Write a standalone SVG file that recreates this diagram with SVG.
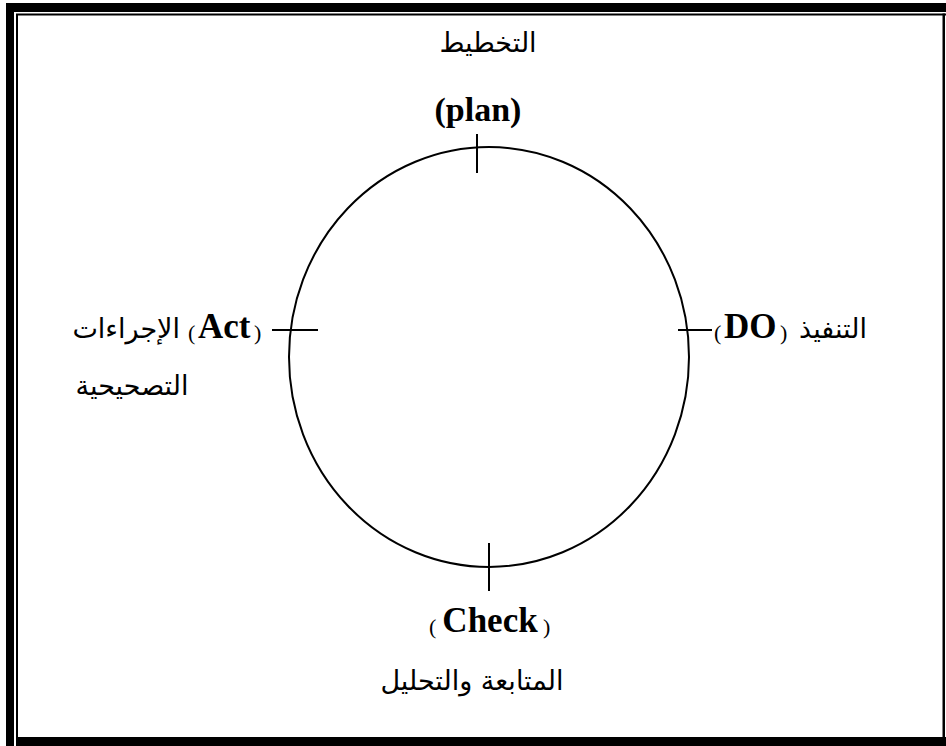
<svg xmlns="http://www.w3.org/2000/svg" width="946" height="746" viewBox="0 0 946 746">
  <style>
    .ar { font-family: "DejaVu Sans", "Noto Sans", sans-serif; font-size: 27px; fill: #000; }
    .par { font-family: "Liberation Serif", "Times New Roman", serif; font-size: 22px; fill: #000; }
    .lat { font-family: "Liberation Serif", "Times New Roman", serif; font-weight: bold; fill: #000; }
    .tick { stroke: #000; stroke-width: 2; fill: none; }
  </style>
  <rect x="0" y="0" width="946" height="746" fill="#fff"/>

  <!-- page frame: heavy outer band plus thin inner rule -->
  <g id="frame" fill="#000">
    <rect x="6" y="3" width="8" height="743"/>
    <rect x="6" y="3" width="940" height="9"/>
    <rect x="16" y="14" width="2" height="732"/>
    <rect x="16" y="13.5" width="930" height="2"/>
    <rect x="942.5" y="13.5" width="2.5" height="733"/>
    <rect x="16" y="737" width="930" height="9"/>
  </g>

  <!-- the cycle -->
  <g id="cycle">
    <ellipse cx="489" cy="357" rx="200" ry="210" fill="none" stroke="#000" stroke-width="2"/>
  </g>

  <!-- stage markers on the cycle -->
  <g id="connectors">
    <line class="tick" x1="477" y1="134" x2="477" y2="173"/>
    <line class="tick" x1="678" y1="330" x2="712" y2="330"/>
    <line class="tick" x1="489" y1="543" x2="489" y2="591"/>
    <line class="tick" x1="272" y1="330" x2="318" y2="330"/>
  </g>

  <g id="plan">
    <text class="ar" x="488" y="52" text-anchor="middle">التخطيط</text>
    <text class="lat" x="478" y="121" font-size="34" text-anchor="middle">(plan)</text>
  </g>

  <g id="do">
    <text class="par" x="714" y="340">(</text>
    <text class="lat" x="724" y="338" font-size="35">DO</text>
    <text class="par" x="780" y="340">)</text>
    <text class="ar" x="867" y="338" text-anchor="end">التنفيذ</text>
  </g>

  <g id="check">
    <text class="par" x="429" y="634">(</text>
    <text class="lat" x="490" y="632" font-size="35" text-anchor="middle">Check</text>
    <text class="par" x="543" y="634">)</text>
    <text class="ar" x="472" y="690" text-anchor="middle">المتابعة والتحليل</text>
  </g>

  <g id="act">
    <text class="ar" x="180" y="338" text-anchor="end">الإجراءات</text>
    <text class="par" x="188" y="340">(</text>
    <text class="lat" x="198" y="338" font-size="35">Act</text>
    <text class="par" x="254" y="340">)</text>
    <text class="ar" x="132" y="395" text-anchor="middle">التصحيحية</text>
  </g>
</svg>
